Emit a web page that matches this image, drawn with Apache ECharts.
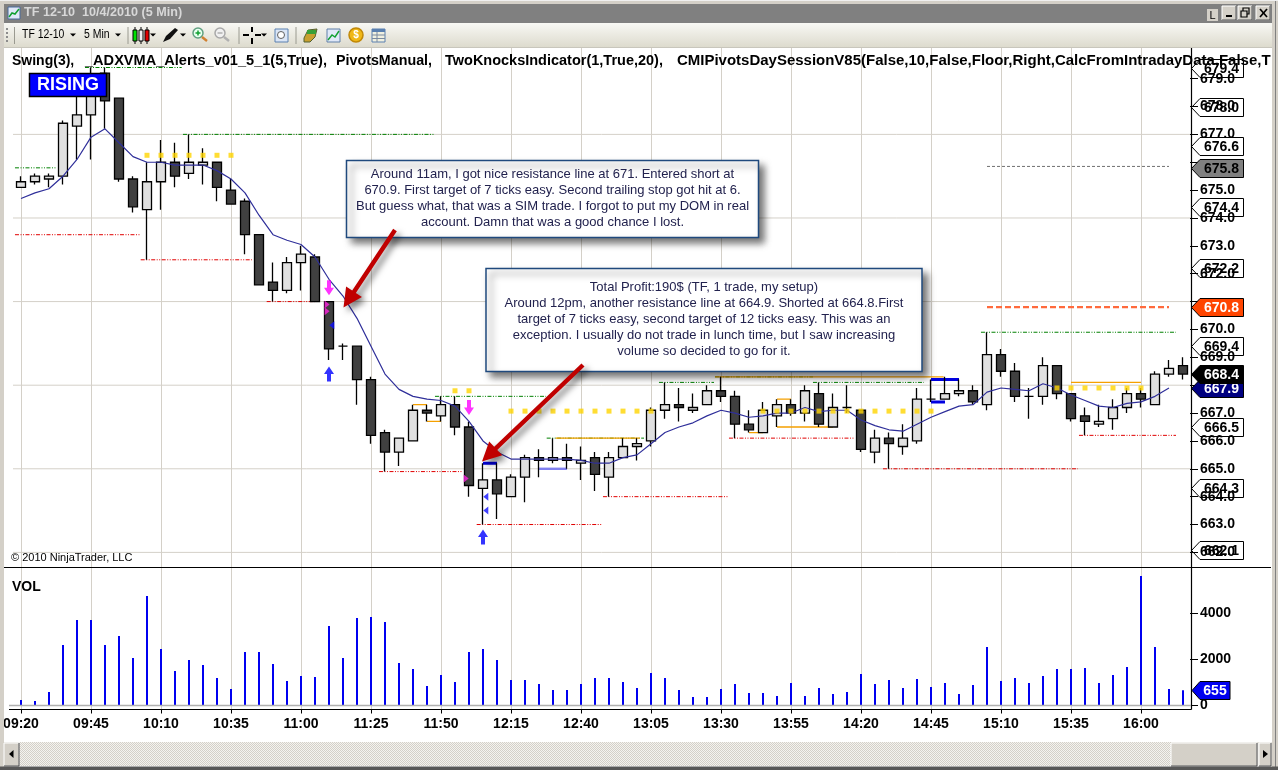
<!DOCTYPE html>
<html><head><meta charset="utf-8">
<style>html,body{margin:0;padding:0;background:#fff}#c{width:1278px;height:770px}</style>
<script src="https://cdn.jsdelivr.net/npm/echarts@6/dist/echarts.min.js"></script>
</head><body><div id="c"></div>
<script>
const times=['09:20','09:25','09:30','09:35','09:40','09:45','09:50','09:55','10:00','10:05','10:10','10:15','10:20','10:25','10:30','10:35','10:40','10:45','10:50','10:55','11:00','11:05','11:10','11:15','11:20','11:25','11:30','11:35','11:40','11:45','11:50','11:55','12:00','12:05','12:10','12:15','12:20','12:25','12:30','12:35','12:40','12:45','12:50','12:55','13:00','13:05','13:10','13:15','13:20','13:25','13:30','13:35','13:40','13:45','13:50','13:55','14:00','14:05','14:10','14:15','14:20','14:25','14:30','14:35','14:40','14:45','14:50','14:55','15:00','15:05','15:10','15:15','15:20','15:25','15:30','15:35','15:40','15:45','15:50','15:55','16:00','16:05','16:10','16:15'];
const opens=[675.1,675.3,675.4,675.5,677.3,677.7,679.2,678.3,675.4,674.3,675.3,676.0,675.6,675.9,676.0,675.0,674.6,673.4,671.7,671.4,672.4,672.6,671.0,669.4,669.4,668.2,666.3,665.6,666.0,667.1,666.9,667.3,666.5,664.3,664.6,664.0,664.7,665.4,665.3,665.4,665.2,665.4,664.7,665.4,665.8,666.0,667.1,667.3,667.1,667.3,667.8,667.6,666.6,666.3,666.9,667.3,667.0,667.7,666.5,667.2,667.1,665.6,666.1,665.8,666.0,667.5,667.5,667.7,667.8,667.3,669.1,668.5,667.6,667.6,668.7,667.7,666.9,666.6,666.8,667.2,667.7,667.3,668.4,668.7];
const closes=[675.3,675.5,675.5,677.4,677.7,678.7,678.2,675.4,674.4,675.3,676.0,675.5,676.0,676.0,675.1,674.5,673.4,671.6,671.4,672.4,672.7,671.0,669.3,669.4,668.2,666.2,665.6,666.1,667.1,667.0,667.3,666.5,664.4,664.6,664.1,664.7,665.4,665.3,665.4,665.3,665.3,664.8,665.4,665.8,665.9,667.1,667.3,667.2,667.2,667.8,667.6,666.6,666.4,667.1,667.3,667.0,667.8,666.6,667.2,667.2,665.7,666.1,665.9,666.1,667.5,667.5,667.7,667.8,667.4,669.1,668.5,667.6,667.6,668.7,667.7,666.8,666.7,666.7,667.2,667.7,667.5,668.4,668.6,668.4];
const lows=[675.1,675.2,675.1,675.2,676.1,676.1,677.2,675.3,674.2,672.5,674.3,675.1,675.4,675.2,674.6,674.5,672.7,671.6,671.0,671.3,671.4,671.0,668.9,668.9,667.3,665.9,664.9,665.1,666.0,666.7,666.7,666.2,664.0,663.0,663.2,664.0,663.8,664.7,665.2,665.0,664.6,664.2,664.0,665.4,665.3,665.8,666.8,666.7,667.0,667.3,667.4,666.1,666.3,666.3,666.5,666.9,666.7,666.5,666.5,667.0,665.6,665.2,665.0,665.5,665.9,667.4,667.5,667.6,667.3,667.1,668.3,667.4,666.8,667.3,667.5,666.7,666.2,666.5,666.4,667.0,667.2,667.3,668.3,668.2];
const highs=[675.5,675.6,675.6,677.5,678.6,679.4,679.4,678.3,675.5,676.0,676.8,676.7,677.0,676.5,676.0,675.4,674.7,673.4,672.4,672.6,673.0,672.7,671.0,669.5,669.4,668.3,666.4,666.1,667.3,667.3,667.6,667.6,666.7,665.2,665.2,664.8,665.5,665.7,666.1,665.9,665.8,665.6,665.6,666.1,666.1,667.2,668.1,667.9,667.7,668.0,668.3,667.8,667.1,667.4,667.5,667.5,668.0,668.1,667.7,668.0,667.1,666.4,666.3,666.6,667.9,668.2,668.3,668.2,668.0,669.9,669.3,668.8,667.9,669.0,668.7,667.7,667.2,667.3,667.5,667.9,667.9,668.5,668.9,669.0];
const vma=[674.7,674.9,675.05,675.5,676.1,676.9,677.2,676.7,676.2,676,676,675.9,675.9,675.9,675.7,675.4,674.9,674.1,673.4,673.2,673.05,672.6,671.8,671.2,670.4,669.4,668.4,667.85,667.6,667.5,667.45,667.25,666.7,666,665.6,665.35,665.35,665.35,665.35,665.35,665.3,665.2,665.2,665.4,665.5,665.9,666.3,666.5,666.65,666.9,667.1,667,666.85,666.9,667,667,667.2,667.05,667.1,667.1,666.75,666.55,666.4,666.35,666.6,666.85,667.05,667.25,667.3,667.75,667.9,667.85,667.8,668.05,667.9,667.65,667.45,667.25,667.2,667.35,667.4,667.6,667.9];
const volumes=[232,188,580,2620,3710,3710,2620,3010,2060,4750,2450,1490,1970,1750,1190,710,2320,2320,1800,1060,1275,1230,3450,2060,3800,3840,3620,1840,1580,840,1320,1010,2320,2450,1970,1100,1100,930,670,670,930,1190,1190,1010,750,1405,1190,670,360,360,710,930,535,535,405,970,405,750,490,580,1360,930,1100,750,1145,800,970,490,880,2535,1060,1190,970,1275,1580,1580,1620,970,1320,1670,5620,2535,710,655];
const priceTicks=[662,663,664,665,666,667,668,669,670,671,672,673,674,675,676,677,678,679];
const priceLabels=[662,663,664,665,666,667,669,670,672,673,674,675,677,678,679];
const volumeTicks=[0,2000,4000];
const gridPrices=[662,665,668,671,674,677];
// level rows: from bar, to bar, price
const greenLevels=[[-0.43,2.5,675.8],[4.57,11.48,679.4],[11.57,29.5,677.0],[29.57,37.5,667.6],[37.55,44.5,666.1],[45.57,49.5,668.1],[49.57,56.57,668.3],[56.57,64.5,668.1],[68.57,82.5,669.9]];
const redLevels=[[-0.43,8.5,673.4],[8.55,16.5,672.5],[17.55,21,671.0],[25.57,31.5,664.9],[32.55,41.5,663.0],[41.57,50.5,664.0],[50.57,59.5,666.1],[61.57,75.5,665.0],[75.57,82.5,666.2]];
const orangeLevels=[[28,29,667.3],[29,30,666.7],[38.2,44.2,666.1],[49.57,65.9,668.3],[52,53,666.3],[54,55,667.5],[54,58,666.5],[75,80,668.1]];
const blueLevels=[[33,34,665.2],[65,67,668.2],[65,66,667.4]];
const paleBlueLevels=[[37,39,665.0]];
const grayLevels=[[69,82,675.85]];
const targetLevels=[[69,82,670.8]];
const dotsHighBars=[9,10,11,12,13,14,15],dotsHighPrice=676.25;
const dotsMidBars=[31,32],dotsMidPrice=667.8;
const dotsLongBars=[35,36,37,38,39,40,41,42,43,44,45,53,54,55,56,57,58,59,60,61,62,63,64,65],dotsLongPrice=667.07;
const dotsLateBars=[74,75,76,77,78,79,80],dotsLatePrice=667.9;
const sellArrows=[[22,671.5],[32,667.2]];
const buyArrows=[[22,668.4],[33,662.55]];
const entryMarks=[[21.86,670.9],[21.86,670.65],[31.8,664.65]];
const exitMarks=[[22.2,670.15],[33.2,664.0],[33.2,663.5]];
const flagValues=[679.4,678.0,676.6,675.8,674.4,672.2,670.8,669.4,667.9,668.4,666.5,664.3,662.1];
const flagFills=['#fff','#fff','#fff','#808080','#fff','#fff','#ff4500','#fff','#000080','#000','#fff','#fff','#fff'];
const flagInks=['#000','#000','#000','#000','#000','#000','#fff','#000','#fff','#fff','#000','#000','#000'];
const legendPieces=[['Swing(3),',12,1],['_ADXVMA_Alerts_v01_5_1(5,True),',85,1.04],['PivotsManual,',336,1.02],['TwoKnocksIndicator(1,True,20),',445,1.035],['CMIPivotsDaySessionV85(False,10,False,Floor,Right,CalcFromIntradayData,False,T',677,1.07]];
const note1=['Around 11am, I got nice resistance line at 671. Entered short at','670.9. First target of 7 ticks easy. Second trailing stop got hit at 6.','But guess what, that was a SIM trade. I forgot to put my DOM in real','account. Damn that was a good chance I lost.'];
const note2=['Total Profit:190$ (TF, 1 trade, my setup)','Around 12pm, another resistance line at 664.9. Shorted at 664.8.First','target of 7 ticks easy, second target of 12 ticks easy. This was an','exception. I usually do not trade in lunch time, but I saw increasing','volume so decided to go for it.'];

const FF='"Liberation Sans",Arial,sans-serif';
const every5=(i)=>i%5===0;
function rowsToLine(rows){const d=[];rows.forEach(r=>{d.push([r[0],r[2]],[r[1],r[2]],['-','-']);});return d;}
function levelSeries(name,rows,color,width,dash,z){return {name,type:'line',xAxisIndex:2,yAxisIndex:0,data:rowsToLine(rows),showSymbol:false,symbol:'none',clip:false,connectNulls:false,z:z||2,silent:true,lineStyle:{color,width,type:dash||'solid'}};}
function dotSeries(bars,price){return {type:'scatter',xAxisIndex:2,yAxisIndex:0,data:bars.map(b=>[b,price]),symbol:'rect',symbolSize:5,itemStyle:{color:'#ffd400'},z:7,silent:true};}
function markSeries(rows,path,size,color){return {type:'scatter',xAxisIndex:2,yAxisIndex:0,data:rows,symbol:path,symbolSize:size,symbolKeepAspect:false,itemStyle:{color},z:8,silent:true};}
const DD=[4,1.5,1,1.5,1,1.5];
function flagShape(y,fill){return {type:'polygon',shape:{points:[[1191.5,y],[1200,y-9],[1243.5,y-9],[1243.5,y+9],[1200,y+9]]},style:{fill,stroke:'#000',lineWidth:1}};}
function flagText(y,text,ink){return {type:'text',style:{x:1221.5,y:y+0.5,text,fill:ink,font:'bold 14px '+FF,align:'center',verticalAlign:'middle'}};}

// ----- chrome and annotations (page furniture, not data) -----
const G=[];
function rect(x,y,w,h,fill,extra){G.push(Object.assign({type:'rect',z:100,silent:true,shape:{x,y,width:w,height:h},style:Object.assign({fill},extra||{})}));}
function line(x1,y1,x2,y2,stroke,w){G.push({type:'line',z:100,silent:true,shape:{x1,y1,x2,y2},style:{stroke,lineWidth:w||1}});}
function text(x,y,t,font,fill,align,sx){G.push({type:'text',z:100,silent:true,x,y,scaleX:sx||1,style:{x:0,y:0,text:t,font:font+' '+FF,fill,align:align||'left',verticalAlign:'middle'}});}
function poly(pts,fill,extra){G.push({type:'polygon',z:100,silent:true,shape:{points:pts},style:Object.assign({fill},extra||{})});}
function circ(cx,cy,r,fill,stroke,w){G.push({type:'circle',z:100,silent:true,shape:{cx,cy,r},style:{fill,stroke,lineWidth:w||1}});}
function down(x,y){poly([[x-3,y-1.5],[x+3,y-1.5],[x,y+1.5]],'#000');}

// pane lines
line(4,567.5,1271,567.5,'#000',1.2);
line(9,709.5,1191.5,709.5,'#000',1.2);
line(1191.5,48,1191.5,709.5,'#000',1.2);
line(9,705.5,1191,705.5,'#b0b0b0',1.6);
text(11,558,'\u00a9 2010 NinjaTrader, LLC','11px','#000');
text(12,587,'VOL','bold 14px','#000');
legendPieces.forEach(p=>text(p[1],61,p[0],'bold 14px','#000','left',p[2]));
// RISING
rect(29.5,73.5,77,23,'#0000ff',{stroke:'#000',lineWidth:1.5});
text(68,85.5,'RISING','bold 18px','#fff','center');
// notes
function note(x,y,w,h,lines,ly){rect(x,y,w,h,'#fff',{stroke:'#1f497d',lineWidth:1.5,shadowBlur:7,shadowOffsetX:5,shadowOffsetY:5,shadowColor:'rgba(0,0,0,0.55)'});
 lines.forEach((t,i)=>text(x+w/2,ly+i*16.1,t,'13px','#22224e','center'));}
note(346.5,160.5,412,77,note1,174);
note(486,268.5,436,103,note2,287);
function arrow(x1,y1,x2,y2){const L=Math.hypot(x2-x1,y2-y1),ux=(x2-x1)/L,uy=(y2-y1)/L,nx=-uy,ny=ux,hl=19,hw=9.5,sw=2.2;
 const bx=x2-ux*hl,by=y2-uy*hl;
 poly([[x1+nx*sw,y1+ny*sw],[bx+nx*sw,by+ny*sw],[bx+nx*hw,by+ny*hw],[x2,y2],[bx-nx*hw,by-ny*hw],[bx-nx*sw,by-ny*sw],[x1-nx*sw,y1-ny*sw]],'#c00000',{shadowBlur:6,shadowOffsetX:4,shadowOffsetY:4,shadowColor:'rgba(0,0,0,0.5)'});}
arrow(395,230,343.5,307.5);
arrow(583,365,482,461.5);
// frame
rect(0,0,1278,4,'#d4d0c8');
rect(0,0,4,770,'#d4d0c8');
rect(1272,0,6,770,'#d4d0c8');
line(1275.5,0,1275.5,770,'#808080',1);
rect(4,4,1268,19,'#808080');
rect(4,23,1268,25,'#e8e6dc');
line(4,47.5,1272,47.5,'#c8c6bc',1);
G.push({type:'rect',z:100,silent:true,shape:{x:4,y:23,width:1268,height:24},style:{fill:{type:'linear',x:0,y:0,x2:0,y2:1,colorStops:[{offset:0,color:'#f8f8f4'},{offset:1,color:'#dddbce'}]}}});
// title bar
rect(8,7,12,12,'#dfe8f8',{stroke:'#4a6a9a',lineWidth:1});
G.push({type:'polyline',z:100,silent:true,shape:{points:[[9,17],[12,13],[15,14],[19,9]]},style:{stroke:'#10a030',lineWidth:1.5,fill:null}});
text(24,13,'TF 12-10  10/4/2010 (5 Min)','bold 12.6px','#d8d8d8');
rect(1207,9,11,12,'#d4d0c8');text(1212.5,15.5,'L','11px','#000','center');
[[1222,'min'],[1238,'max'],[1256,'x']].forEach(b=>{rect(b[0],6,14,14,'#d4d0c8',{stroke:'#fff',lineWidth:1});line(b[0]+14,6,b[0]+14,20,'#404040',1);line(b[0],20,b[0]+14,20,'#404040',1);});
rect(1226,15,6,2,'#000');
rect(1243,8,6,6,'none',{stroke:'#000',lineWidth:1.2});rect(1241,11,6,6,'#d4d0c8',{stroke:'#000',lineWidth:1.2});
line(1260,9,1267,17,'#000',1.6);line(1267,9,1260,17,'#000',1.6);
// toolbar
[28,32,36,40].forEach(y=>rect(6,y,2,2,'#8c8c8c'));
[14.5,128,239,296].forEach(x=>line(x,27,x,44,'#9a9a90',1));
text(22,35,'TF 12-10','12px','#000','left',0.87);down(73,35);
text(84,35,'5 Min','12px','#000','left',0.87);down(118,35);
[[135,'#00e000'],[141,'#f0f0f0'],[147,'#e00000']].forEach(c=>{line(c[0],27,c[0],44,'#000',1);rect(c[0]-2,30,4,11,c[1],{stroke:'#000',lineWidth:1});});down(153,35);
poly([[163,42],[166,36],[175,28],[178,30],[170,39]],'#101010');down(183,35);
circ(198,33,5,'#e8fff0','#60a080',1.5);line(202,37,207,41,'#d08030',2.5);line(195.5,33,200.5,33,'#10a030',1.5);line(198,30.5,198,35.5,'#10a030',1.5);
circ(220,33,5,'#f0f0f0','#a8a8a8',1.5);line(224,37,229,41,'#b0b0b0',2.5);line(217.5,33,222.5,33,'#b0b0b0',1.5);
line(243,35,249,35,'#000',2);line(255,35,261,35,'#000',2);line(252,27,252,32,'#000',2);line(252,38,252,44,'#000',2);down(264,35);
rect(275,29,13,13,'#dbe6f6',{stroke:'#5a80b0',lineWidth:1});circ(281,35,3.5,'#fff','#606060',1);
poly([[304,38],[308,30],[317,29],[315,37],[310,42],[304,42]],'#c8a030',{stroke:'#506030',lineWidth:1});rect(307,30,9,4,'#38a038');
rect(327,29,13,13,'#e0e8f8',{stroke:'#6080a8',lineWidth:1});G.push({type:'polyline',z:100,silent:true,shape:{points:[[328,40],[332,35],[335,37],[339,31]]},style:{stroke:'#10a030',lineWidth:1.4,fill:null}});
circ(356,35,7,'#f0b818','#c08808',1.5);text(356,35.5,'$','bold 10px','#fff','center');
rect(372,29,13,13,'#f0f0e0',{stroke:'#5a80b0',lineWidth:1});rect(372,29,13,3,'#5a80b0');line(372,35,385,35,'#7a8aa0',1);line(372,38.5,385,38.5,'#7a8aa0',1);line(377,32,377,42,'#7a8aa0',1);
// scroll bar
rect(4,742,1268,24,'#e4e2dc');
G.push({type:'rect',z:100,silent:true,shape:{x:19,y:742,width:1152,height:24},style:{fill:{image:(function(){const c=document.createElement('canvas');c.width=c.height=2;const k=c.getContext('2d');k.fillStyle='#f4f3f0';k.fillRect(0,0,2,2);k.fillStyle='#d4d0c8';k.fillRect(0,0,1,1);k.fillRect(1,1,1,1);return c;})(),repeat:'repeat'}}});
function btn(x,w){rect(x,743,w,23,'#d4d0c8',{stroke:'#fff',lineWidth:1});line(x+w,743,x+w,766,'#404040',1);line(x,766,x+w,766,'#404040',1);}
btn(4,15);poly([[13.5,750],[13.5,758],[9,754]],'#000');
btn(1171,86);btn(1259,12);poly([[1263,750],[1263,758],[1268,754]],'#000');
rect(0,766.5,1278,3.5,'#585858');
line(0,0.5,1278,0.5,'#f0f0f0',1);

const option={
 animation:false,backgroundColor:'#fff',
 textStyle:{fontFamily:FF},
 grid:[{left:14,top:48,width:1176,height:520,containLabel:false},{left:14,top:568,width:1176,height:141.5}],
 xAxis:[
  {type:'category',gridIndex:0,data:times,boundaryGap:true,axisLine:{show:false,onZero:false},axisTick:{show:false},axisLabel:{show:false},
   splitLine:{show:true,interval:every5,alignWithLabel:true,lineStyle:{color:'#d4d0c8',width:1}}},
  {type:'category',gridIndex:1,data:times,boundaryGap:true,axisLine:{show:false,onZero:false},
   axisTick:{show:true,alignWithLabel:true,interval:every5,length:4,lineStyle:{color:'#000',width:1}},
   axisLabel:{show:true,interval:(i)=>i%5===0,margin:8,color:'#000',fontWeight:'bold',fontSize:14,fontFamily:FF},
   splitLine:{show:true,interval:every5,alignWithLabel:true,lineStyle:{color:'#d4d0c8',width:1}}},
  {type:'value',gridIndex:0,min:-0.5,max:83.5,show:false,splitLine:{show:false}}
 ],
 yAxis:[
  {type:'value',gridIndex:0,position:'right',min:661.44,max:680.1,z:3,scale:true,axisLine:{show:false,onZero:false},splitLine:{show:false},
   axisTick:{show:true,length:8,customValues:priceTicks,lineStyle:{color:'#000',width:1}},
   axisLabel:{show:true,margin:10,customValues:priceLabels,color:'#000',fontWeight:'bold',fontSize:14,fontFamily:FF,formatter:(v)=>Number(v).toFixed(1),hideOverlap:false}},
  {type:'value',gridIndex:1,position:'right',min:-183,max:5970,z:3,axisLine:{show:false,onZero:false},splitLine:{show:false},
   axisTick:{show:true,length:8,customValues:volumeTicks,lineStyle:{color:'#000',width:1}},
   axisLabel:{show:true,margin:10,customValues:volumeTicks,color:'#000',fontWeight:'bold',fontSize:14,fontFamily:FF,formatter:(v)=>String(Math.round(v)),hideOverlap:false}}
 ],
 series:[
  levelSeries('grid',gridPrices.map(p=>[-0.86,83.57,p]),'#d4d0c8',1,'solid',1),
  levelSeries('green',greenLevels,'#008000',1,DD),
  levelSeries('red',redLevels,'#e00000',1,DD),
  levelSeries('gray',grayLevels,'#707070',1,[3,2]),
  levelSeries('target',targetLevels,'#ff6a3c',2.4,[6,3]),
  levelSeries('orange',orangeLevels,'#f5a000',1.3),
  levelSeries('paleBlue',paleBlueLevels,'#8080f0',2.4),
  levelSeries('blue',blueLevels,'#0000e0',3,'solid',3),
  {name:'TF 12-10',type:'candlestick',xAxisIndex:0,yAxisIndex:0,barWidth:9,z:4,silent:true,
   data:opens.map((o,i)=>[o,closes[i],lows[i],highs[i]]),
   itemStyle:{color:'#e0e0e0',color0:'#404040',borderColor:'#000',borderColor0:'#000',borderColorDoji:'#000',borderWidth:1.3}},
  {name:'ADXVMA',type:'line',xAxisIndex:0,yAxisIndex:0,data:vma,showSymbol:false,symbol:'none',z:5,silent:true,lineStyle:{color:'#2f2f9a',width:1.2}},
  dotSeries(dotsHighBars,dotsHighPrice),dotSeries(dotsMidBars,dotsMidPrice),dotSeries(dotsLongBars,dotsLongPrice),dotSeries(dotsLateBars,dotsLatePrice),
  markSeries(sellArrows,'path://M3 0H7V7H10L5 14 0 7H3Z',[10,15],'#ff00ff'),
  markSeries(buyArrows,'path://M5 0L10 7H7V14H3V7H0Z',[10,15],'#0000ff'),
  markSeries(entryMarks,'path://M0 0L10 6 0 12Z',[5,8],'#ff20e0'),
  markSeries(exitMarks,'path://M10 0L0 6 10 12Z',[5,8],'#1010ff'),
  {name:'VOL',type:'bar',xAxisIndex:1,yAxisIndex:1,data:volumes,barWidth:2,z:3,silent:true,itemStyle:{color:'#0000f0'}},
  {name:'flagBack',type:'custom',xAxisIndex:2,yAxisIndex:0,z:2,silent:true,clip:false,encode:{x:0,y:1},
   data:flagValues.map((v,i)=>[0,v,i]),
   renderItem:(p,api)=>{const i=api.value(2);if(flagFills[i]!=='#fff')return null;return flagShape(Math.round(api.coord([0,api.value(1)])[1])+0.5,'#fff');}},
  {name:'flagFront',type:'custom',xAxisIndex:2,yAxisIndex:0,z:6,silent:true,clip:false,encode:{x:0,y:1},
   data:flagValues.map((v,i)=>[0,v,i]),
   renderItem:(p,api)=>{const i=api.value(2);const y=Math.round(api.coord([0,api.value(1)])[1])+0.5;const ch=[];if(flagFills[i]!=='#fff')ch.push(flagShape(y,flagFills[i]));ch.push(flagText(y,flagValues[i].toFixed(1),flagInks[i]));return {type:'group',children:ch};}},
  {name:'volFlag',type:'custom',xAxisIndex:1,yAxisIndex:1,z:6,silent:true,clip:false,encode:{x:0,y:1},
   data:[[0,volumes[83]]],
   renderItem:(p,api)=>{const y=Math.round(api.coord([0,api.value(1)])[1])+0.5;return {type:'group',children:[
     {type:'polygon',shape:{points:[[1192,y],[1200,y-9],[1230,y-9],[1230,y+9],[1200,y+9]]},style:{fill:'#0000f0',stroke:'#000',lineWidth:1}},
     {type:'text',style:{x:1215,y:y+0.5,text:String(volumes[83]),fill:'#fff',font:'bold 14px '+FF,align:'center',verticalAlign:'middle'}}]};}}
 ],
 graphic:{elements:G}
};
echarts.init(document.getElementById('c'),null,{renderer:'canvas'}).setOption(option);
</script></body></html>
